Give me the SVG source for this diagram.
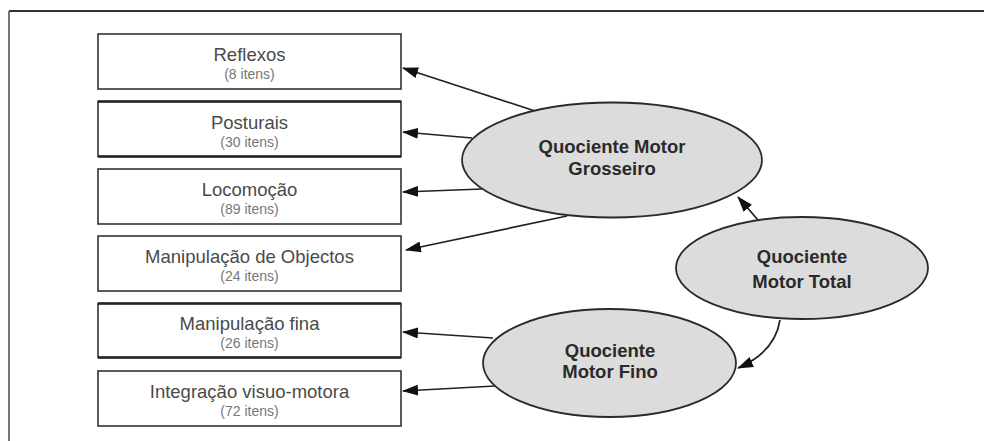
<svg xmlns="http://www.w3.org/2000/svg" width="984" height="441" viewBox="0 0 984 441">
<style>
.box{fill:#fff;stroke:#333;stroke-width:1.6}
.edge{stroke:#222;stroke-width:2.6}
.t{font-family:"Liberation Sans",Arial,sans-serif;font-size:18.5px;fill:#4a4a4a;text-anchor:middle}
.s{font-family:"Liberation Sans",Arial,sans-serif;font-size:14px;fill:#777;text-anchor:middle}
.ell{fill:#dcdcdc;stroke:#2a2a2a;stroke-width:1.8}
.et{font-family:"Liberation Sans",Arial,sans-serif;font-size:18.5px;font-weight:bold;fill:#2a2a2a;text-anchor:middle}
.c{fill:none;stroke:#222;stroke-width:1.7}
</style>
<defs>
<marker id="ah" viewBox="0 0 16 11" refX="15" refY="5.5" markerWidth="16" markerHeight="11" markerUnits="userSpaceOnUse" orient="auto">
<path d="M0,0 L16,5.5 L0,11 Z" fill="#111"/>
</marker>
</defs>
<g id="frame" fill="none">
<line x1="9" y1="11" x2="984" y2="11" stroke="#333" stroke-width="1.8"/>
<line x1="9" y1="11" x2="9" y2="441" stroke="#666" stroke-width="1.8"/>
</g>
<g id="n-reflexos">
<rect class="box" x="98" y="34" width="303" height="55"/>
<text class="t" x="249.5" y="61">Reflexos</text>
<text class="s" x="249.5" y="79">(8 itens)</text>
</g>
<g id="n-posturais">
<rect class="box" x="98" y="101.5" width="303" height="55"/>
<line class="edge" x1="98" y1="101.5" x2="401" y2="101.5"/>
<line class="edge" x1="98" y1="156.5" x2="401" y2="156.5"/>
<text class="t" x="249.5" y="129">Posturais</text>
<text class="s" x="249.5" y="147">(30 itens)</text>
</g>
<g id="n-locomocao">
<rect class="box" x="98" y="169" width="303" height="55"/>
<text class="t" x="249.5" y="196">Locomoção</text>
<text class="s" x="249.5" y="214">(89 itens)</text>
</g>
<g id="n-manip-obj">
<rect class="box" x="98" y="236" width="303" height="55"/>
<text class="t" x="249.5" y="263">Manipulação de Objectos</text>
<text class="s" x="249.5" y="281">(24 itens)</text>
</g>
<g id="n-manip-fina">
<rect class="box" x="98" y="303.5" width="303" height="54"/>
<line class="edge" x1="98" y1="303.5" x2="401" y2="303.5"/>
<line class="edge" x1="98" y1="357.5" x2="401" y2="357.5"/>
<text class="t" x="249.5" y="330">Manipulação fina</text>
<text class="s" x="249.5" y="348">(26 itens)</text>
</g>
<g id="n-integracao">
<rect class="box" x="98" y="371" width="303" height="55"/>
<text class="t" x="249.5" y="398">Integração visuo-motora</text>
<text class="s" x="249.5" y="416">(72 itens)</text>
</g>
<g id="connectors">
<line class="c" x1="535" y1="111" x2="403" y2="68" marker-end="url(#ah)"/>
<line class="c" x1="472" y1="138" x2="403" y2="132" marker-end="url(#ah)"/>
<line class="c" x1="482" y1="189" x2="403" y2="192" marker-end="url(#ah)"/>
<line class="c" x1="567" y1="216" x2="406" y2="250" marker-end="url(#ah)"/>
<line class="c" x1="493" y1="338" x2="403" y2="332" marker-end="url(#ah)"/>
<line class="c" x1="495" y1="386" x2="403" y2="391" marker-end="url(#ah)"/>
<line class="c" x1="758" y1="220" x2="738" y2="197" marker-end="url(#ah)"/>
<path class="c" d="M780,320 Q775,352 738,368" marker-end="url(#ah)"/>
</g>
<g id="n-qmg">
<ellipse class="ell" cx="612" cy="160" rx="150" ry="57.5"/>
<text class="et" x="612" y="153">Quociente Motor</text>
<text class="et" x="612" y="175">Grosseiro</text>
</g>
<g id="n-qmt">
<ellipse class="ell" cx="802" cy="268" rx="126" ry="51"/>
<text class="et" x="802" y="263">Quociente</text>
<text class="et" x="802" y="288">Motor Total</text>
</g>
<g id="n-qmf">
<ellipse class="ell" cx="609.5" cy="363" rx="126.5" ry="54"/>
<text class="et" x="610" y="357">Quociente</text>
<text class="et" x="610" y="378">Motor Fino</text>
</g>
</svg>
